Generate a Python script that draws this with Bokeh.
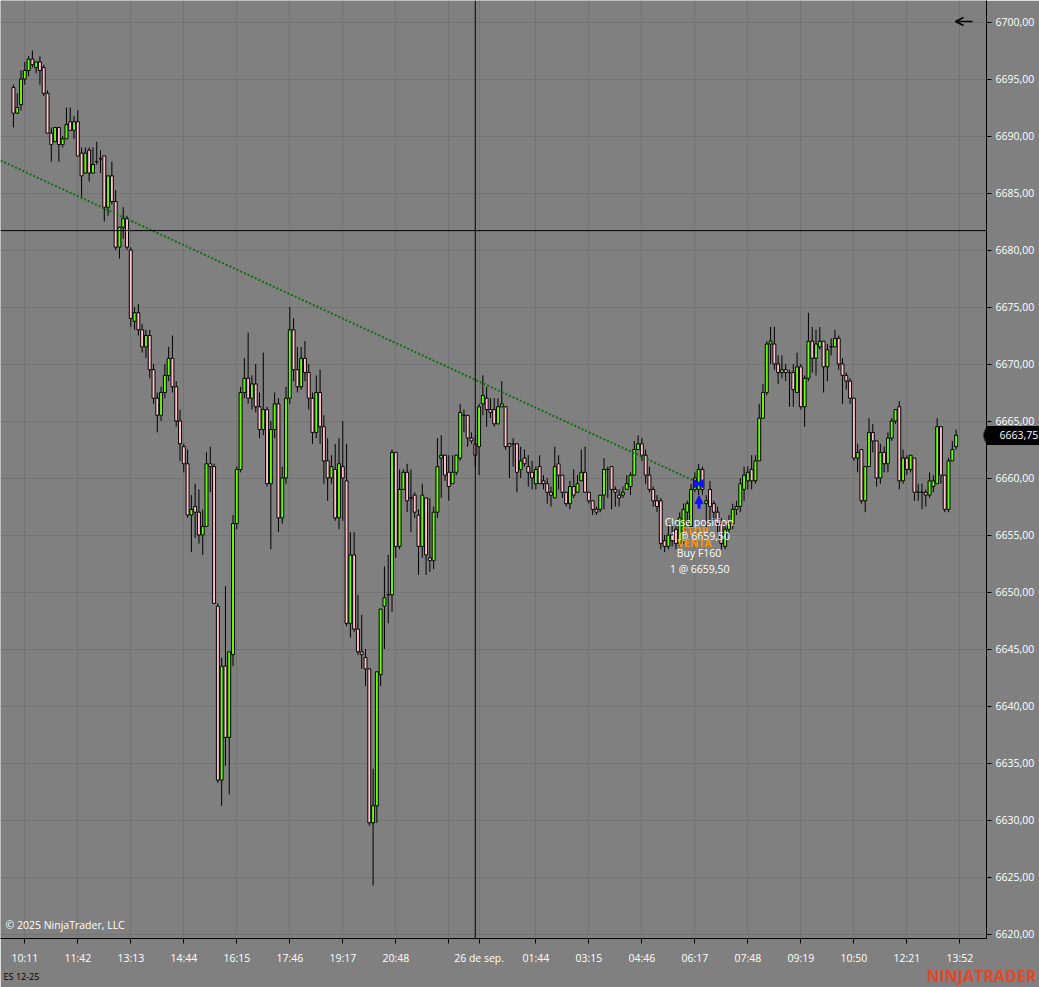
import numpy as np
from bokeh.plotting import figure
from bokeh.models import (FixedTicker, CustomJSTickFormatter, Span, Label, Arrow,
                          OpenHead, NormalHead, ColumnDataSource, LinearAxis)
from bokeh.embed import file_html
from bokeh.resources import INLINE

# ---------------- data (ES 12-25, one candle per bar) ----------------
opens = [
6694.25,6692.0,6692.75,6695.0,6695.75,6696.75,6696.0,6696.5,6696.0,6693.75,
6690.25,6689.5,6690.75,6689.25,6689.75,6691.25,6690.5,6691.25,6688.5,6686.75,
6688.75,6686.75,6687.75,6688.0,6688.25,6683.75,6686.5,6684.25,6680.25,6682.0,
6682.75,6680.0,6673.75,6674.5,6673.0,6671.5,6672.5,6669.5,6667.0,6665.5,
6667.5,6669.0,6670.5,6668.0,6665.0,6662.75,6661.25,6656.75,6657.5,6657.0,
6655.0,6655.75,6661.25,6661.0,6648.75,6633.5,6643.5,6637.25,6644.5,6656.0,
6660.75,6667.5,6668.75,6667.0,6668.25,6666.25,6664.25,6666.0,6659.5,6664.25,
6666.5,6656.5,6660.0,6667.0,6673.0,6669.5,6668.0,6670.5,6669.25,6667.0,
6664.0,6667.5,6664.5,6661.5,6660.0,6660.75,6656.5,6661.0,6659.75,6647.25,
6653.25,6646.75,6644.75,6644.25,6643.25,6629.75,6631.25,6642.75,6648.75,6649.75,
6649.75,6662.25,6654.0,6659.0,6660.5,6658.25,6658.5,6656.75,6654.0,6658.25,
6653.0,6652.75,6657.0,6661.75,6662.0,6660.5,6659.5,6660.5,6661.75,6665.5,
6665.5,6663.5,6663.0,6662.75,6666.5,6667.0,6666.0,6666.0,6664.75,6666.25,
6666.25,6663.0,6663.0,6663.0,6660.75,6661.75,6661.0,6660.5,6659.5,6661.0,
6659.75,6659.5,6658.75,6658.25,6661.25,6660.25,6658.75,6657.75,6659.25,6658.75,
6659.75,6660.5,6658.75,6658.0,6657.25,6657.25,6658.5,6660.75,6661.0,6659.0,
6658.5,6658.5,6659.0,6659.25,6660.25,6662.5,6663.0,6662.0,6660.25,6659.0,
6658.0,6658.0,6654.5,6654.0,6655.0,6655.5,6654.25,6654.5,6657.0,6655.75,
6659.0,6659.0,6660.75,6657.75,6659.0,6657.75,6657.0,6656.0,6654.0,6655.5,
6656.0,6657.25,6657.5,6659.0,6659.75,6660.75,6659.75,6661.5,6665.25,6667.5,
6671.75,6671.75,6670.0,6669.25,6669.5,6669.25,6669.25,6667.5,6669.75,6666.25,
6668.75,6672.0,6670.5,6671.5,6672.0,6669.75,6671.5,6671.5,6672.25,6670.0,
6669.0,6668.5,6667.0,6661.75,6662.5,6658.0,6661.0,6664.0,6663.25,6660.0,
6662.25,6661.25,6663.5,6665.0,6666.25,6659.75,6661.75,6660.75,6661.75,6658.75,
6658.75,6658.75,6658.5,6659.25,6659.5,6664.5,6660.25,6657.25,6661.5,6662.75,
]
highs = [
6694.5,6693.75,6695.75,6696.5,6697.0,6697.5,6696.5,6697.0,6696.25,6694.0,
6690.75,6690.75,6690.75,6690.0,6692.5,6692.5,6691.75,6692.25,6689.0,6689.0,
6689.0,6689.0,6689.5,6688.75,6688.25,6686.5,6687.75,6685.25,6682.0,6683.75,
6683.0,6680.25,6675.0,6675.25,6673.5,6673.0,6673.0,6670.0,6667.5,6668.0,
6670.0,6671.5,6672.5,6668.5,6666.0,6663.0,6662.5,6658.5,6659.5,6659.0,
6657.25,6662.25,6662.75,6661.25,6649.0,6644.25,6650.5,6644.75,6656.75,6661.0,
6668.0,6670.5,6672.75,6669.0,6670.0,6667.5,6671.0,6666.25,6665.0,6667.5,
6667.0,6661.0,6668.0,6675.0,6674.0,6671.5,6671.5,6672.0,6670.0,6667.5,
6669.0,6669.5,6665.5,6663.5,6662.0,6663.0,6663.5,6665.0,6663.0,6655.25,
6655.25,6649.75,6648.0,6645.0,6643.25,6634.5,6643.0,6648.5,6652.25,6653.25,
6662.5,6662.25,6660.75,6660.75,6661.25,6660.75,6658.75,6657.25,6659.5,6658.25,
6658.25,6657.5,6663.5,6663.75,6662.0,6662.0,6662.0,6662.0,6666.5,6666.0,
6665.5,6664.0,6663.75,6666.5,6669.0,6668.0,6667.0,6667.0,6667.0,6668.5,
6666.25,6663.0,6663.5,6663.0,6662.75,6662.5,6662.0,6661.5,6661.0,6662.0,
6660.25,6660.0,6659.25,6662.75,6662.0,6660.25,6658.75,6659.75,6660.75,6660.25,
6662.5,6662.75,6658.75,6658.0,6657.5,6658.5,6661.75,6661.0,6661.0,6659.25,
6659.0,6659.25,6660.25,6660.5,6663.25,6663.75,6663.5,6662.5,6661.0,6659.25,
6658.5,6658.25,6655.0,6656.0,6656.0,6656.0,6657.0,6657.75,6658.0,6659.5,
6660.5,6661.25,6661.0,6658.5,6659.75,6658.0,6657.5,6656.5,6656.0,6656.75,
6657.75,6658.0,6660.0,6661.0,6661.0,6662.0,6662.0,6666.5,6668.25,6672.0,
6673.25,6673.25,6670.75,6670.75,6670.0,6669.5,6670.0,6671.0,6670.0,6669.0,
6674.5,6673.25,6673.0,6673.25,6672.0,6671.75,6672.25,6673.0,6672.5,6670.5,
6669.25,6668.75,6667.0,6663.0,6662.5,6661.0,6665.25,6664.75,6663.25,6663.0,
6662.75,6664.0,6665.25,6666.0,6666.75,6662.5,6662.0,6662.0,6661.75,6659.5,
6659.5,6659.0,6660.5,6660.25,6665.25,6664.5,6660.25,6661.75,6663.25,6664.25,
]
lows = [
6690.75,6692.0,6692.25,6694.5,6695.25,6696.0,6695.5,6694.5,6693.5,6690.25,
6687.75,6689.5,6687.75,6689.0,6689.75,6690.5,6689.75,6688.25,6684.5,6686.75,
6686.0,6686.75,6687.5,6686.75,6682.5,6683.0,6684.0,6680.0,6679.25,6681.0,
6680.0,6673.25,6673.0,6672.5,6671.0,6670.5,6668.75,6666.5,6664.0,6665.0,
6667.0,6668.5,6667.5,6664.5,6661.5,6660.5,6656.5,6653.5,6654.75,6654.25,
6653.25,6655.75,6658.75,6649.0,6633.25,6631.25,6634.75,6632.25,6643.5,6655.5,
6660.5,6667.0,6666.5,6666.0,6665.75,6663.5,6663.75,6659.25,6653.75,6663.5,
6655.25,6656.0,6659.5,6666.5,6668.5,6667.5,6667.75,6668.5,6666.0,6663.0,
6663.5,6663.0,6659.5,6658.0,6659.5,6656.25,6655.5,6656.25,6647.0,6646.0,
6646.5,6644.5,6643.25,6641.75,6629.5,6624.25,6629.75,6641.75,6645.0,6647.25,
6648.25,6653.0,6653.75,6659.0,6657.0,6655.25,6656.5,6651.5,6653.0,6651.5,
6651.75,6652.0,6656.5,6658.25,6659.75,6658.0,6659.5,6660.25,6661.5,6664.0,
6662.75,6663.0,6661.0,6660.25,6665.5,6664.5,6665.25,6664.5,6664.75,6666.25,
6662.5,6660.0,6661.0,6658.75,6660.0,6661.0,6659.25,6659.0,6659.0,6659.5,
6659.0,6657.75,6657.5,6658.25,6659.0,6658.25,6657.5,6657.25,6658.25,6658.75,
6659.75,6658.75,6657.75,6656.75,6656.75,6657.0,6657.25,6658.25,6657.25,6657.5,
6657.5,6658.25,6659.0,6658.5,6660.25,6662.5,6661.5,6659.5,6658.75,6657.5,
6657.0,6653.75,6653.5,6653.75,6654.0,6653.75,6654.0,6654.25,6656.0,6655.5,
6658.75,6658.5,6658.5,6655.5,6656.0,6656.25,6655.25,6653.75,6653.75,6655.0,
6655.5,6656.75,6657.0,6658.0,6659.0,6659.0,6659.5,6661.5,6665.25,6667.25,
6670.0,6669.5,6668.25,6668.75,6668.5,6666.25,6666.25,6667.5,6666.0,6664.5,
6668.5,6669.25,6669.0,6671.25,6667.5,6668.5,6670.75,6671.5,6669.5,6666.5,
6667.75,6666.5,6661.5,6660.5,6657.75,6657.0,6661.0,6662.25,6659.25,6659.5,
6660.5,6660.5,6663.25,6664.75,6659.0,6659.5,6660.25,6660.5,6658.0,6658.0,
6657.25,6657.5,6658.25,6658.75,6659.5,6659.5,6657.0,6657.0,6661.5,6662.5,
]
closes = [
6692.0,6692.5,6695.0,6695.75,6696.75,6696.25,6696.5,6695.75,6693.75,6690.25,
6689.25,6690.75,6689.25,6689.75,6691.0,6690.5,6691.25,6688.25,6686.5,6688.5,
6686.75,6687.5,6687.75,6688.0,6683.75,6686.5,6684.25,6680.25,6682.0,6682.75,
6680.25,6674.0,6674.5,6673.0,6671.5,6672.5,6669.5,6667.0,6665.5,6667.5,
6669.0,6670.5,6668.0,6665.0,6663.0,6661.25,6656.75,6657.25,6657.0,6655.0,
6655.75,6661.25,6661.0,6649.0,6633.5,6643.5,6637.25,6644.75,6656.0,6660.75,
6667.5,6668.75,6667.0,6668.25,6666.25,6664.25,6666.0,6659.5,6664.25,6666.5,
6656.5,6660.0,6667.0,6673.0,6669.5,6668.0,6670.5,6669.25,6667.0,6664.0,
6667.5,6664.5,6661.5,6660.0,6661.0,6656.5,6661.25,6660.0,6647.25,6653.25,
6646.75,6644.75,6644.5,6643.25,6629.75,6631.25,6643.0,6648.5,6649.5,6649.75,
6662.25,6654.0,6659.0,6660.5,6658.0,6658.25,6657.0,6654.0,6658.5,6653.25,
6652.75,6657.0,6661.0,6662.0,6660.25,6659.25,6660.5,6662.0,6665.75,6665.5,
6663.5,6663.25,6662.0,6666.25,6667.25,6666.0,6665.75,6664.75,6666.25,6666.5,
6662.75,6662.75,6663.0,6660.5,6661.5,6661.25,6660.5,6660.0,6660.75,6659.5,
6659.5,6658.75,6658.5,6661.0,6660.25,6658.75,6657.75,6659.25,6658.5,6659.5,
6660.5,6658.75,6658.0,6657.25,6657.0,6658.5,6660.75,6660.75,6659.0,6658.75,
6658.25,6658.75,6659.5,6660.25,6662.5,6663.0,6662.0,6660.25,6659.0,6658.0,
6657.5,6654.25,6654.0,6655.0,6654.5,6654.25,6656.5,6657.25,6657.75,6659.0,
6660.0,6660.75,6659.0,6658.0,6657.5,6657.0,6656.0,6654.25,6655.5,6656.0,
6657.25,6657.5,6659.5,6660.25,6660.5,6659.75,6661.5,6665.25,6667.5,6671.75,
6672.0,6670.0,6669.25,6669.5,6669.25,6669.25,6667.75,6669.75,6666.25,6668.75,
6672.0,6670.5,6671.75,6672.0,6669.75,6671.25,6671.5,6672.25,6670.0,6669.0,
6668.5,6667.0,6661.75,6662.25,6658.0,6661.0,6664.0,6663.25,6660.0,6662.25,
6661.25,6663.5,6665.0,6666.0,6659.75,6661.75,6660.75,6662.0,6658.75,6658.75,
6658.75,6658.5,6659.75,6659.75,6664.5,6660.25,6657.25,6661.5,6662.5,6663.75,
]

# time axis labels (bar index -> label)
tick_bars = [3, 17, 31, 45, 59, 73, 87, 101, 115, 123, 138, 152, 166, 180, 194, 208, 222, 236, 250]
tick_labels = ["10:11", "11:42", "13:13", "14:44", "16:15", "17:46", "19:17", "20:48", "",
               "26 de sep.", "01:44", "03:15", "04:46", "06:17", "07:48", "09:19", "10:50",
               "12:21", "13:52"]
price_ticks = list(range(6620, 6701, 5))
last_price = 6663.75
last_price_text = "6663,75"

# drawings / trade
trend_bars = [-3.4, 179.6]
trend_prices = [6687.85, 6659.78]
cross_bar = 122
cross_price = 6681.7
exec_bar = 181
exec_price = 6659.50
trade_texts = ["Close position", "1 @ 6659,50", "STOP", "VENTA", "Buy F160", "1 @ 6659,50"]

# ---------------- layout (pixel calibration) ----------------
BAR0_PX, BAR_PX = 12.94, 3.7857
P6700_PX, PX_PER_PT = 21.5, 11.4
FRAME_W, FRAME_H = 986, 938
def bx(xr):
    return round((xr - BAR0_PX) / BAR_PX, 4)
def py(yr):
    return round(6700 - (yr - P6700_PX) / PX_PER_PT, 4)

BG = "#808080"
GRID = "#747474"
UP = "#66ff00"
DN = "#ffc0cb"
BLUE = "#1010ff"
ORANGE = "#ff9000"
FONT = "Open Sans"

p = figure(frame_width=FRAME_W, frame_height=FRAME_H,
           x_range=(bx(0), bx(FRAME_W)), y_range=(py(FRAME_H), py(0)),
           y_axis_location="right", output_backend="svg", toolbar_location=None,
           min_border_left=0, min_border_top=0, min_border_right=53, min_border_bottom=49,
           background_fill_color=BG, border_fill_color=BG, outline_line_color=None)

# axes
yax = p.yaxis[0]
yax.ticker = FixedTicker(ticks=price_ticks)
yax.formatter = CustomJSTickFormatter(code="return tick.toFixed(2).replace('.', ',');")
xax = p.xaxis[0]
xax.ticker = FixedTicker(ticks=tick_bars)
xax.major_label_overrides = {b: s for b, s in zip(tick_bars, tick_labels)}
for ax in (xax, yax):
    ax.axis_line_color = "black"
    ax.axis_line_width = 1
    ax.major_tick_line_color = "black"
    ax.minor_tick_line_color = None
    ax.major_tick_out = 5
    ax.major_tick_in = 0
    ax.major_label_text_color = "white"
    ax.major_label_text_font = FONT
    ax.major_label_text_font_size = "10.5px"
yax.major_label_standoff = 4
xax.major_label_standoff = 7
p.xgrid[0].ticker = xax.ticker
p.ygrid[0].ticker = yax.ticker
p.xgrid.grid_line_color = GRID
p.ygrid.grid_line_color = GRID

# candles
o = np.array(opens); h = np.array(highs); l = np.array(lows); c = np.array(closes)
idx = np.arange(len(o))
colors = np.where(c > o, UP, np.where(c < o, DN, "black")).tolist()
src = ColumnDataSource(dict(x=idx, top=np.maximum(o, c), bottom=np.minimum(o, c),
                            high=h, low=l, color=colors))
p.segment(x0="x", y0="low", x1="x", y1="high", source=src, line_color="black", line_width=1)
p.vbar(x="x", width=0.78, top="top", bottom="bottom", source=src,
       fill_color="color", line_color="black", line_width=1)

# trend line (dotted green)
p.line(trend_bars, trend_prices, line_color="#0f6f0f", line_width=2, line_dash="2 2")

# crosshair
p.add_layout(Span(location=cross_bar, dimension="height", line_color="black", line_width=1))
p.add_layout(Span(location=cross_price, dimension="width", line_color="black", line_width=1))

# execution markers
p.scatter([exec_bar - 0.6], [exec_price], marker="triangle", angle=-np.pi / 2, size=8,
          fill_color=BLUE, line_color=BLUE)
p.scatter([exec_bar + 0.6], [exec_price], marker="triangle", angle=np.pi / 2, size=8,
          fill_color=BLUE, line_color=BLUE)
p.add_layout(Arrow(end=NormalHead(size=8, fill_color=BLUE, line_color=BLUE),
                   x_start=exec_bar + 0.1, y_start=exec_price - 25 / PX_PER_PT,
                   x_end=exec_bar + 0.1, y_end=exec_price - 12 / PX_PER_PT,
                   line_color=BLUE, line_width=3))

# execution texts (offsets in px below execution price)
txt_pos = [(0.1, 38.5, "white", "normal"), (0.4, 52.5, "white", "normal"),
           (-1.0, 47.5, ORANGE, "bold"), (-1.1, 59.5, ORANGE, "bold"),
           (0.1, 69.5, "white", "normal"), (0.3, 85.0, "white", "normal")]
order = [0, 2, 1, 3, 4, 5]
for k in order:
    dxb, dy, col, style = txt_pos[k]
    p.add_layout(Label(x=exec_bar + dxb, y=exec_price - dy / PX_PER_PT, text=trade_texts[k],
                       text_align="center", text_baseline="middle", text_color=col,
                       text_font=FONT, text_font_size="10.5px", text_font_style=style))

# back arrow (top right)
p.add_layout(Arrow(end=OpenHead(size=8, line_color="black", line_width=1.5),
                   x_start=bx(972), y_start=py(21), x_end=bx(955), y_end=py(21),
                   line_color="black", line_width=1.5))

# copyright
p.add_layout(Label(x=bx(5), y=py(924), text="\u00a9 2025 NinjaTrader, LLC", text_align="left",
                   text_baseline="middle", text_color="white", text_font=FONT,
                   text_font_size="10.5px"))

# ---- items outside the frame: extra (almost zero-size) side axes ----
def side_axis(side, ticks=(), labels=(), tick_in=0, tick_out=0, tick_w=1, tick_color=None,
              standoff=0, color="white", size="10.5px", style="normal"):
    ax = LinearAxis(ticker=FixedTicker(ticks=list(ticks)),
                    major_label_overrides={t: s for t, s in zip(ticks, labels)},
                    axis_line_color=None, minor_tick_line_color=None,
                    major_tick_out=tick_out, major_tick_in=tick_in,
                    major_tick_line_color=tick_color, major_tick_line_width=tick_w,
                    major_label_standoff=standoff, major_label_text_color=color,
                    major_label_text_font=FONT, major_label_text_font_size=size,
                    major_label_text_font_style=style)
    p.add_layout(ax, side)
    return ax

# last price flag on the price scale: pointer steps, black box, white text
AXR = 1034  # x of the slot next to the price scale
for tip, w in ((980, 6), (981, 11), (982, 15)):
    side_axis("right", [last_price], [""], tick_in=AXR - tip, tick_w=w, tick_color="black")
side_axis("right", [last_price], [last_price_text], tick_in=AXR - 983, tick_out=6, tick_w=19,
          tick_color="black", standoff=996 - (AXR + 6))

# instrument name and logo under the time axis (same line, second one pulled up)
side_axis("below", [bx(21)], ["ES 12-25"], standoff=2, color="black", size="9px")
side_axis("below", [bx(981)], ["NINJATRADER"], standoff=-21, color="#e4462a", size="16px",
          style="bold")

open("out.html", "w").write(file_html(p, INLINE))
